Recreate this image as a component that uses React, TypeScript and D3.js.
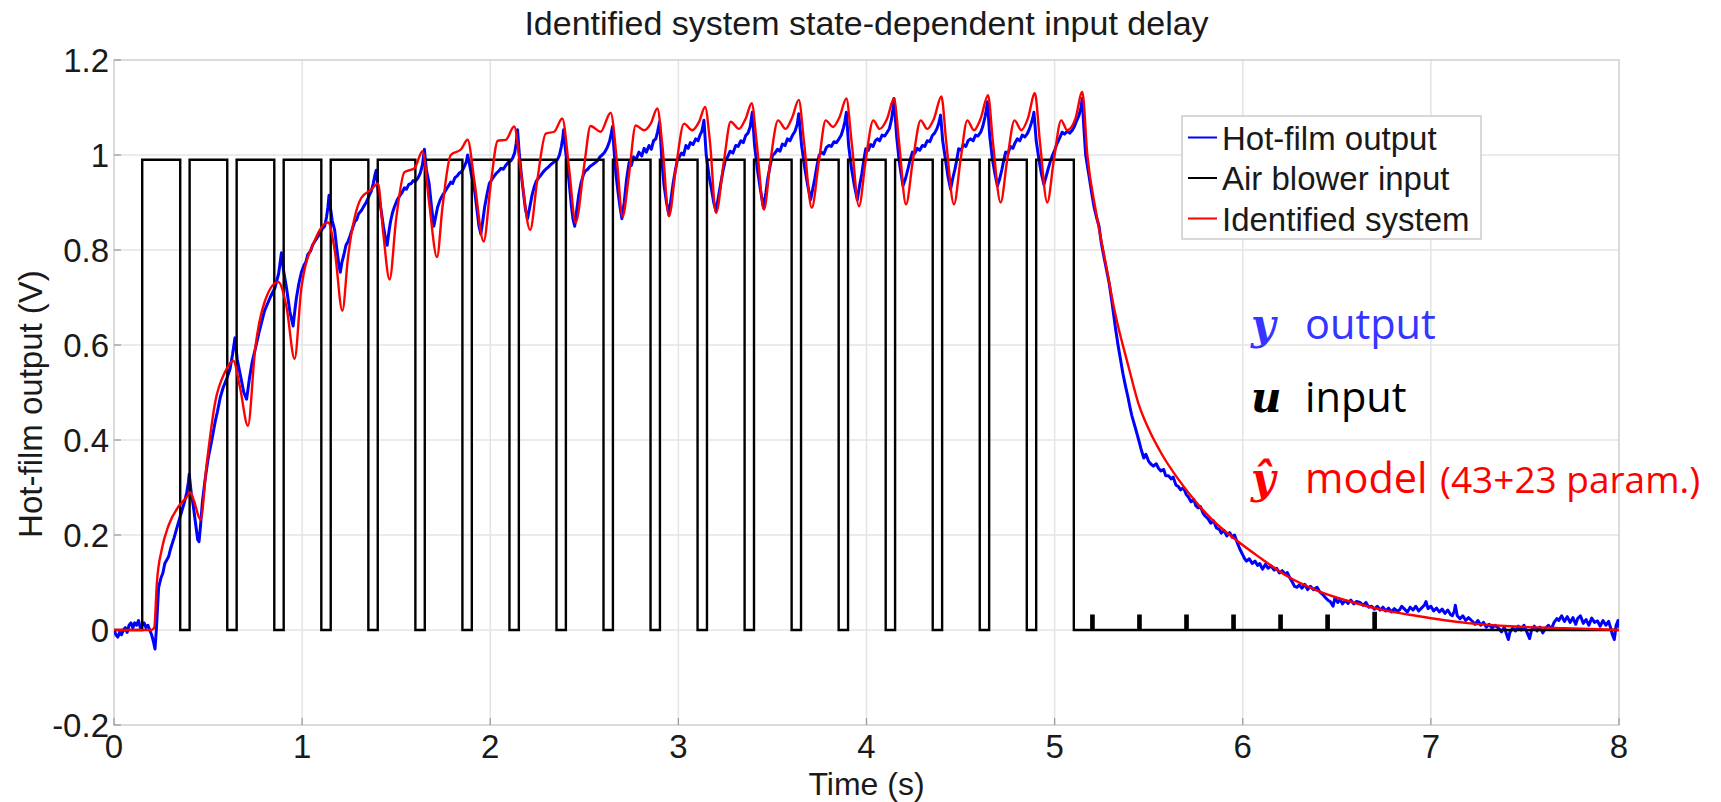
import React, { useEffect, useRef } from "react";
import * as d3 from "d3";

const TITLE = "Identified system state-dependent input delay";
const X_LABEL = "Time (s)";
const Y_LABEL = "Hot-film output (V)";
const X_TICKS = [0, 1, 2, 3, 4, 5, 6, 7, 8];
const Y_TICKS = [-0.2, 0, 0.2, 0.4, 0.6, 0.8, 1, 1.2];
const Y_TICK_LABELS = ["-0.2", "0", "0.2", "0.4", "0.6", "0.8", "1", "1.2"];
const LEGEND_LABELS = ["Hot-film output", "Air blower input", "Identified system"];
const SERIES_COLORS = ["#0000ff", "#000000", "#ff0000"];

// Air blower input: switching instants (s) and the level held after each one
const inputTimes = [
  0, 0.15, 0.352, 0.402, 0.602, 0.652, 0.852, 0.902, 1.102, 1.152, 1.352, 1.402,
  1.602, 1.652, 1.852, 1.902, 2.102, 2.152, 2.352, 2.402, 2.602, 2.652, 2.852, 2.902,
  3.102, 3.152, 3.352, 3.402, 3.602, 3.652, 3.852, 3.902, 4.102, 4.152, 4.352, 4.402,
  4.602, 4.652, 4.852, 4.902, 5.102,
  5.195, 5.207, 5.445, 5.457, 5.695, 5.707, 5.945, 5.957, 6.195, 6.207, 6.445, 6.457,
  6.695, 6.707, 8.0,
];
const inputLevels = [
  0, 0.99, 0, 0.99, 0, 0.99, 0, 0.99, 0, 0.99, 0, 0.99,
  0, 0.99, 0, 0.99, 0, 0.99, 0, 0.99, 0, 0.99, 0, 0.99,
  0, 0.99, 0, 0.99, 0, 0.99, 0, 0.99, 0, 0.99, 0, 0.99,
  0, 0.99, 0, 0.99, 0,
  0.03, 0, 0.03, 0, 0.03, 0, 0.03, 0, 0.03, 0, 0.03, 0,
  0.036, 0, 0,
];

// Identified system (model) output
const modelPts: [number, number][] = [
  [0, 0], [0.1, 0], [0.2, 0], [0.214, 0.005], [0.228, 0.1], [0.254, 0.17], [0.29, 0.22],
  [0.343, 0.26], [0.387, 0.28], [0.405, 0.29], [0.425, 0.272], [0.46, 0.232], [0.493, 0.35],
  [0.537, 0.478], [0.59, 0.543], [0.634, 0.567], [0.67, 0.51], [0.712, 0.43], [0.75, 0.59],
  [0.8, 0.69], [0.873, 0.733], [0.917, 0.68], [0.96, 0.571], [0.996, 0.72], [1.067, 0.82],
  [1.138, 0.858], [1.173, 0.8], [1.214, 0.672], [1.244, 0.785], [1.315, 0.91], [1.367, 0.927],
  [1.403, 0.94], [1.43, 0.84], [1.465, 0.738], [1.5, 0.866], [1.544, 0.964], [1.597, 0.972],
  [1.64, 1.008], [1.675, 0.9], [1.717, 0.785], [1.746, 0.89], [1.79, 1.0], [1.845, 1.012],
  [1.88, 1.032], [1.915, 0.947], [1.965, 0.818], [2.003, 0.94], [2.04, 1.03], [2.083, 1.032],
  [2.127, 1.06], [2.163, 0.964], [2.212, 0.842], [2.25, 0.947], [2.295, 1.045], [2.34, 1.049],
  [2.383, 1.077], [2.419, 0.972], [2.454, 0.858], [2.5, 0.98], [2.533, 1.061], [2.587, 1.049],
  [2.64, 1.089], [2.675, 0.98], [2.703, 0.87], [2.738, 0.96], [2.773, 1.062], [2.818, 1.052],
  [2.853, 1.066], [2.888, 1.098], [2.915, 1.02], [2.95, 0.871], [2.986, 0.97], [3.03, 1.066],
  [3.074, 1.052], [3.11, 1.07], [3.142, 1.101], [3.168, 1.027], [3.2, 0.878], [3.243, 0.99],
  [3.278, 1.07], [3.322, 1.055], [3.358, 1.077], [3.39, 1.109], [3.416, 1.027], [3.455, 0.885],
  [3.49, 0.99], [3.53, 1.073], [3.57, 1.055], [3.606, 1.08], [3.64, 1.116], [3.668, 1.027],
  [3.709, 0.889], [3.748, 0.99], [3.783, 1.073], [3.822, 1.059], [3.857, 1.08], [3.893, 1.119],
  [3.921, 1.027], [3.96, 0.892], [3.996, 0.99], [4.036, 1.073], [4.07, 1.055], [4.11, 1.077],
  [4.146, 1.119], [4.173, 1.027], [4.21, 0.896], [4.247, 0.99], [4.288, 1.073], [4.323, 1.055],
  [4.359, 1.077], [4.398, 1.123], [4.424, 1.027], [4.465, 0.896], [4.5, 0.99], [4.536, 1.073],
  [4.571, 1.052], [4.607, 1.077], [4.646, 1.126], [4.672, 1.027], [4.713, 0.9], [4.748, 0.99],
  [4.787, 1.073], [4.823, 1.052], [4.858, 1.077], [4.895, 1.13], [4.922, 1.027], [4.961, 0.9],
  [4.996, 0.99], [5.035, 1.073], [5.067, 1.052], [5.111, 1.077], [5.147, 1.133], [5.174, 1.0],
  [5.22, 0.88], [5.27, 0.775], [5.32, 0.67], [5.395, 0.551], [5.447, 0.475], [5.5, 0.423],
  [5.57, 0.37], [5.658, 0.317], [5.746, 0.272], [5.833, 0.234], [5.956, 0.192], [6.096, 0.151],
  [6.237, 0.113], [6.395, 0.083], [6.57, 0.06], [6.746, 0.042], [6.92, 0.03], [7.184, 0.015],
  [7.447, 0.0075], [7.71, 0.004], [8.0, 0.0],
];

// Hot-film measured output
const measuredPts: [number, number][] = [
  [0, 0.0], [0.01, -0.01], [0.02, -0.015], [0.03, -0.005], [0.04, -0.01], [0.05, 0.0],
  [0.06, 0.005], [0.07, -0.005], [0.08, 0.01], [0.09, 0.015], [0.1, 0.005], [0.11, 0.015],
  [0.12, 0.01], [0.13, 0.02], [0.14, 0.005], [0.15, 0.01], [0.16, 0.015], [0.17, 0.005],
  [0.18, 0.01], [0.19, 0.0], [0.2, -0.01], [0.21, -0.025], [0.218, -0.04], [0.225, 0.0],
  [0.237, 0.089], [0.25, 0.11], [0.26, 0.12], [0.27, 0.14], [0.29, 0.154], [0.3, 0.17],
  [0.32, 0.195], [0.343, 0.227], [0.36, 0.25], [0.375, 0.27], [0.387, 0.29], [0.395, 0.31],
  [0.4, 0.328], [0.41, 0.29], [0.422, 0.26], [0.435, 0.22], [0.445, 0.19], [0.452, 0.186],
  [0.46, 0.22], [0.47, 0.27], [0.484, 0.316], [0.5, 0.36], [0.52, 0.4], [0.537, 0.437],
  [0.55, 0.46], [0.565, 0.49], [0.58, 0.51], [0.6, 0.53], [0.617, 0.55], [0.63, 0.58],
  [0.643, 0.615], [0.655, 0.57], [0.67, 0.54], [0.69, 0.5], [0.705, 0.486], [0.72, 0.53],
  [0.735, 0.565], [0.75, 0.59], [0.77, 0.625], [0.8, 0.672], [0.83, 0.7], [0.855, 0.72],
  [0.875, 0.75], [0.89, 0.794], [0.9, 0.76], [0.917, 0.72], [0.935, 0.67], [0.952, 0.64],
  [0.962, 0.675], [0.97, 0.7], [0.983, 0.73], [0.996, 0.753], [1.01, 0.768], [1.02, 0.775],
  [1.03, 0.79], [1.045, 0.798], [1.055, 0.81], [1.067, 0.818], [1.08, 0.826], [1.09, 0.832],
  [1.1, 0.84], [1.11, 0.846], [1.12, 0.85], [1.13, 0.87], [1.137, 0.89], [1.143, 0.915],
  [1.15, 0.89], [1.16, 0.862], [1.173, 0.842], [1.185, 0.8], [1.195, 0.77], [1.203, 0.753],
  [1.212, 0.775], [1.222, 0.79], [1.233, 0.81], [1.244, 0.818], [1.255, 0.83], [1.265, 0.842],
  [1.28, 0.86], [1.29, 0.864], [1.3, 0.876], [1.315, 0.883], [1.325, 0.89], [1.34, 0.9],
  [1.35, 0.908], [1.36, 0.918], [1.367, 0.923], [1.378, 0.94], [1.387, 0.958], [1.394, 0.968],
  [1.405, 0.92], [1.42, 0.883], [1.432, 0.85], [1.444, 0.822], [1.452, 0.81], [1.462, 0.84],
  [1.47, 0.86], [1.48, 0.878], [1.49, 0.89], [1.505, 0.905], [1.52, 0.915], [1.53, 0.92],
  [1.544, 0.931], [1.555, 0.928], [1.567, 0.938], [1.58, 0.94], [1.59, 0.946], [1.6, 0.944],
  [1.615, 0.951], [1.628, 0.962], [1.64, 0.98], [1.65, 1.012], [1.66, 0.97], [1.675, 0.94],
  [1.688, 0.89], [1.7, 0.85], [1.71, 0.87], [1.72, 0.89], [1.733, 0.905], [1.746, 0.915],
  [1.758, 0.922], [1.77, 0.93], [1.78, 0.936], [1.79, 0.943], [1.8, 0.94], [1.812, 0.952],
  [1.825, 0.956], [1.835, 0.962], [1.845, 0.964], [1.855, 0.97], [1.865, 0.978], [1.872, 0.985],
  [1.88, 1.0], [1.89, 0.98], [1.9, 0.958], [1.915, 0.931], [1.928, 0.89], [1.94, 0.85],
  [1.95, 0.834], [1.96, 0.86], [1.97, 0.89], [1.983, 0.918], [1.995, 0.94], [2.008, 0.948],
  [2.02, 0.955], [2.033, 0.962], [2.045, 0.966], [2.057, 0.972], [2.07, 0.97], [2.082, 0.978],
  [2.095, 0.984], [2.11, 0.988], [2.12, 0.994], [2.13, 1.005], [2.138, 1.025], [2.145, 1.053],
  [2.155, 1.0], [2.165, 0.96], [2.175, 0.925], [2.187, 0.886], [2.198, 0.866], [2.21, 0.89],
  [2.222, 0.915], [2.233, 0.932], [2.245, 0.945], [2.257, 0.952], [2.27, 0.958], [2.283, 0.965],
  [2.295, 0.97], [2.31, 0.975], [2.322, 0.98], [2.335, 0.984], [2.345, 0.988], [2.357, 0.99],
  [2.368, 1.0], [2.378, 1.018], [2.385, 1.035], [2.39, 1.053], [2.4, 1.01], [2.41, 0.975],
  [2.42, 0.94], [2.432, 0.89], [2.44, 0.865], [2.449, 0.85], [2.46, 0.885], [2.47, 0.915],
  [2.482, 0.94], [2.495, 0.958], [2.505, 0.966], [2.518, 0.97], [2.53, 0.976], [2.545, 0.98],
  [2.558, 0.984], [2.57, 0.988], [2.583, 0.996], [2.595, 1.0], [2.608, 1.006], [2.622, 1.016],
  [2.635, 1.03], [2.643, 1.045], [2.65, 1.06], [2.658, 1.01], [2.668, 0.96], [2.68, 0.92],
  [2.69, 0.89], [2.7, 0.866], [2.712, 0.9], [2.725, 0.95], [2.738, 0.984], [2.75, 0.978],
  [2.762, 0.996], [2.775, 0.99], [2.79, 1.006], [2.805, 0.998], [2.818, 1.014], [2.83, 1.006],
  [2.844, 1.02], [2.856, 1.012], [2.868, 1.03], [2.88, 1.034], [2.89, 1.05], [2.9, 1.07],
  [2.912, 0.99], [2.924, 0.935], [2.937, 0.9], [2.95, 0.874], [2.96, 0.905], [2.972, 0.94],
  [2.984, 0.968], [2.995, 0.99], [3.005, 0.996], [3.017, 1.004], [3.028, 1.0], [3.04, 1.02],
  [3.052, 1.014], [3.064, 1.026], [3.078, 1.022], [3.092, 1.034], [3.105, 1.03], [3.115, 1.042],
  [3.125, 1.05], [3.136, 1.073], [3.148, 1.0], [3.163, 0.956], [3.175, 0.93], [3.188, 0.9],
  [3.2, 0.882], [3.212, 0.91], [3.225, 0.94], [3.237, 0.966], [3.25, 0.99], [3.262, 0.996],
  [3.275, 1.008], [3.29, 1.004], [3.305, 1.02], [3.318, 1.018], [3.332, 1.03], [3.345, 1.026],
  [3.358, 1.041], [3.37, 1.046], [3.382, 1.06], [3.393, 1.09], [3.405, 1.02], [3.42, 0.97],
  [3.435, 0.93], [3.452, 0.889], [3.465, 0.92], [3.475, 0.95], [3.488, 0.978], [3.5, 0.999],
  [3.513, 1.004], [3.527, 1.012], [3.54, 1.008], [3.553, 1.023], [3.567, 1.02], [3.58, 1.034],
  [3.593, 1.03], [3.606, 1.041], [3.62, 1.05], [3.632, 1.065], [3.64, 1.087], [3.655, 1.02],
  [3.673, 0.97], [3.688, 0.935], [3.703, 0.906], [3.715, 0.93], [3.725, 0.95], [3.737, 0.978],
  [3.748, 0.999], [3.76, 1.006], [3.773, 1.002], [3.787, 1.016], [3.8, 1.02], [3.813, 1.018],
  [3.827, 1.028], [3.84, 1.026], [3.854, 1.034], [3.866, 1.042], [3.878, 1.058], [3.885, 1.07],
  [3.893, 1.09], [3.905, 1.02], [3.921, 0.97], [3.936, 0.935], [3.951, 0.906], [3.963, 0.935],
  [3.975, 0.96], [3.986, 0.99], [3.996, 1.013], [4.01, 1.01], [4.022, 1.022], [4.035, 1.018],
  [4.047, 1.03], [4.058, 1.034], [4.07, 1.03], [4.083, 1.042], [4.097, 1.04], [4.11, 1.048],
  [4.122, 1.056], [4.133, 1.075], [4.14, 1.095], [4.146, 1.119], [4.16, 1.04], [4.173, 0.99],
  [4.184, 0.96], [4.194, 0.935], [4.207, 0.95], [4.22, 0.97], [4.232, 0.99], [4.244, 1.006],
  [4.257, 1.004], [4.27, 1.014], [4.283, 1.01], [4.297, 1.02], [4.31, 1.018], [4.323, 1.03],
  [4.337, 1.028], [4.35, 1.041], [4.362, 1.046], [4.375, 1.056], [4.385, 1.068], [4.394, 1.084],
  [4.405, 1.03], [4.42, 0.99], [4.433, 0.955], [4.447, 0.928], [4.458, 0.95], [4.47, 0.97],
  [4.48, 0.99], [4.49, 1.013], [4.503, 1.01], [4.515, 1.022], [4.528, 1.018], [4.54, 1.03],
  [4.553, 1.034], [4.567, 1.03], [4.58, 1.042], [4.593, 1.04], [4.607, 1.048], [4.618, 1.06],
  [4.63, 1.08], [4.637, 1.095], [4.643, 1.112], [4.655, 1.04], [4.67, 0.99], [4.683, 0.96],
  [4.696, 0.935], [4.708, 0.95], [4.72, 0.97], [4.73, 0.99], [4.74, 1.006], [4.753, 1.004],
  [4.765, 1.018], [4.778, 1.014], [4.79, 1.026], [4.802, 1.034], [4.815, 1.03], [4.828, 1.042],
  [4.842, 1.038], [4.855, 1.045], [4.866, 1.055], [4.877, 1.068], [4.884, 1.078], [4.89, 1.09],
  [4.902, 1.03], [4.917, 0.99], [4.93, 0.96], [4.943, 0.938], [4.955, 0.955], [4.965, 0.97],
  [4.977, 0.986], [4.988, 0.999], [5.0, 1.01], [5.013, 1.024], [5.027, 1.036], [5.04, 1.048],
  [5.053, 1.044], [5.067, 1.05], [5.08, 1.046], [5.094, 1.052], [5.105, 1.06], [5.117, 1.072],
  [5.13, 1.084], [5.14, 1.1], [5.147, 1.119], [5.155, 1.06], [5.165, 1.0], [5.175, 0.975],
  [5.183, 0.956], [5.195, 0.925], [5.21, 0.89], [5.222, 0.87], [5.236, 0.85], [5.248, 0.815],
  [5.26, 0.79], [5.275, 0.76], [5.29, 0.73], [5.305, 0.69], [5.324, 0.634], [5.337, 0.6],
  [5.35, 0.57], [5.363, 0.54], [5.377, 0.513], [5.39, 0.49], [5.4, 0.47], [5.41, 0.452],
  [5.42, 0.438], [5.433, 0.42], [5.447, 0.4], [5.46, 0.38], [5.474, 0.362], [5.485, 0.37],
  [5.5, 0.355], [5.51, 0.35], [5.525, 0.345], [5.54, 0.35], [5.553, 0.34], [5.565, 0.335],
  [5.58, 0.338], [5.59, 0.325], [5.605, 0.325], [5.62, 0.318], [5.63, 0.322], [5.645, 0.305],
  [5.658, 0.302], [5.67, 0.295], [5.685, 0.3], [5.7, 0.285], [5.711, 0.28], [5.725, 0.27],
  [5.74, 0.275], [5.75, 0.262], [5.763, 0.257], [5.775, 0.26], [5.79, 0.245], [5.8, 0.24],
  [5.816, 0.234], [5.83, 0.225], [5.845, 0.23], [5.86, 0.215], [5.875, 0.212], [5.886, 0.204],
  [5.9, 0.21], [5.915, 0.198], [5.93, 0.205], [5.945, 0.195], [5.956, 0.2], [5.97, 0.185],
  [5.985, 0.17], [6.0, 0.158], [6.009, 0.151], [6.02, 0.145], [6.035, 0.15], [6.05, 0.14],
  [6.065, 0.145], [6.079, 0.136], [6.09, 0.14], [6.105, 0.128], [6.12, 0.138], [6.135, 0.13],
  [6.15, 0.135], [6.167, 0.126], [6.18, 0.13], [6.195, 0.12], [6.21, 0.125], [6.225, 0.118],
  [6.237, 0.121], [6.25, 0.11], [6.265, 0.1], [6.275, 0.092], [6.289, 0.09], [6.3, 0.095],
  [6.315, 0.088], [6.33, 0.096], [6.345, 0.085], [6.36, 0.092], [6.375, 0.085], [6.395, 0.09],
  [6.41, 0.08], [6.425, 0.075], [6.44, 0.068], [6.455, 0.062], [6.465, 0.06], [6.48, 0.05],
  [6.49, 0.068], [6.505, 0.058], [6.518, 0.064], [6.53, 0.055], [6.545, 0.062], [6.56, 0.056],
  [6.575, 0.063], [6.59, 0.055], [6.605, 0.06], [6.623, 0.058], [6.64, 0.052], [6.655, 0.058],
  [6.67, 0.048], [6.685, 0.05], [6.7, 0.044], [6.715, 0.05], [6.73, 0.042], [6.745, 0.048],
  [6.76, 0.04], [6.775, 0.046], [6.79, 0.038], [6.805, 0.045], [6.82, 0.04], [6.833, 0.042],
  [6.845, 0.05], [6.86, 0.044], [6.875, 0.038], [6.89, 0.048], [6.905, 0.042], [6.92, 0.05],
  [6.935, 0.04], [6.95, 0.046], [6.965, 0.052], [6.974, 0.06], [6.985, 0.045], [7.0, 0.05],
  [7.015, 0.04], [7.03, 0.046], [7.045, 0.038], [7.06, 0.044], [7.075, 0.035], [7.09, 0.042],
  [7.105, 0.032], [7.114, 0.03], [7.125, 0.04], [7.13, 0.052], [7.14, 0.03], [7.155, 0.024],
  [7.17, 0.03], [7.185, 0.02], [7.2, 0.026], [7.219, 0.019], [7.235, 0.012], [7.25, 0.02],
  [7.265, 0.01], [7.28, 0.016], [7.295, 0.006], [7.31, 0.012], [7.325, 0.004], [7.34, 0.01],
  [7.36, 0.004], [7.375, -0.004], [7.39, 0.006], [7.405, -0.012], [7.412, -0.02], [7.42, -0.005],
  [7.435, 0.004], [7.45, -0.002], [7.465, 0.008], [7.48, 0.0], [7.495, 0.01], [7.51, -0.004],
  [7.525, -0.018], [7.535, 0.0], [7.55, 0.008], [7.565, -0.002], [7.58, 0.006], [7.595, -0.006],
  [7.61, 0.004], [7.625, 0.01], [7.64, 0.002], [7.655, 0.016], [7.67, 0.024], [7.68, 0.02],
  [7.695, 0.03], [7.71, 0.018], [7.725, 0.028], [7.74, 0.016], [7.755, 0.026], [7.77, 0.012],
  [7.78, 0.024], [7.795, 0.03], [7.81, 0.014], [7.825, 0.022], [7.84, 0.01], [7.855, 0.025],
  [7.87, 0.016], [7.886, 0.019], [7.9, 0.008], [7.915, 0.02], [7.93, 0.01], [7.945, 0.018],
  [7.955, 0.005], [7.965, -0.01], [7.975, -0.02], [7.985, 0.01], [7.995, 0.02], [8.0, 0.005],
];

const W = 1721;
const H = 802;
const FONT = "'Liberation Sans', Arial, Helvetica, sans-serif";
const NOTE_FONT = "'Open Sans', 'Noto Sans', sans-serif";
const MATH_FONT = "'DejaVu Serif', serif";

export default function App() {
  const ref = useRef<SVGSVGElement | null>(null);

  useEffect(() => {
    const svg = d3.select(ref.current);
    svg.selectAll("*").remove();

    const x = d3.scaleLinear().domain([0, 8]).range([114, 1619]);
    const y = d3.scaleLinear().domain([-0.2, 1.2]).range([725, 60]);
    const [x0, x1] = x.range();
    const [yb, yt] = y.range();

    svg.append("rect").attr("width", W).attr("height", H).attr("fill", "#ffffff");

    // grid
    const grid = svg.append("g");
    X_TICKS.slice(1, -1).forEach((t) => {
      grid.append("line").attr("x1", x(t)).attr("x2", x(t)).attr("y1", yt).attr("y2", yb)
        .attr("stroke", "#e4e4e4").attr("stroke-width", 1.5);
    });
    Y_TICKS.slice(1, -1).forEach((v) => {
      grid.append("line").attr("x1", x0).attr("x2", x1).attr("y1", y(v)).attr("y2", y(v))
        .attr("stroke", "#e4e4e4").attr("stroke-width", 1.5);
    });

    // box
    svg.append("rect").attr("x", x0).attr("y", yt).attr("width", x1 - x0).attr("height", yb - yt)
      .attr("fill", "none").attr("stroke", "#cfcfcf").attr("stroke-width", 1.5);

    // ticks
    const ticks = svg.append("g").attr("stroke", "#9a9a9a").attr("stroke-width", 1.2);
    X_TICKS.forEach((t) => {
      ticks.append("line").attr("x1", x(t)).attr("x2", x(t)).attr("y1", yb).attr("y2", yb - 7);
    });
    Y_TICKS.forEach((v) => {
      ticks.append("line").attr("x1", x0).attr("x2", x0 + 7).attr("y1", y(v)).attr("y2", y(v));
    });

    // tick labels
    const tl = svg.append("g").attr("font-family", FONT).attr("font-size", 33).attr("fill", "#1a1a1a");
    X_TICKS.forEach((t) => {
      tl.append("text").attr("x", x(t)).attr("y", 758).attr("text-anchor", "middle").text(String(t));
    });
    Y_TICKS.forEach((v, i) => {
      tl.append("text").attr("x", 109).attr("y", y(v) + 12).attr("text-anchor", "end").text(Y_TICK_LABELS[i]);
    });

    // axis labels and title
    svg.append("text").attr("x", (x0 + x1) / 2).attr("y", 795).attr("text-anchor", "middle")
      .attr("font-family", FONT).attr("font-size", 32).attr("fill", "#1a1a1a").text(X_LABEL);
    svg.append("text").attr("transform", `translate(42,404) rotate(-90)`)
      .attr("text-anchor", "middle").attr("font-family", FONT).attr("font-size", 33)
      .attr("fill", "#1a1a1a").text(Y_LABEL);
    svg.append("text").attr("x", (x0 + x1) / 2).attr("y", 35).attr("text-anchor", "middle")
      .attr("font-family", FONT).attr("font-size", 34).attr("fill", "#1a1a1a").text(TITLE);

    // data
    const clipId = "plotclip";
    svg.append("clipPath").attr("id", clipId).append("rect")
      .attr("x", x0).attr("y", yt).attr("width", x1 - x0).attr("height", yb - yt);
    const plot = svg.append("g").attr("clip-path", `url(#${clipId})`);

    const mk = (curve: d3.CurveFactory) =>
      d3.line<[number, number]>().x((d) => x(d[0])).y((d) => y(d[1])).curve(curve);
    const inputPts: [number, number][] = inputTimes.map((t, i) => [t, inputLevels[i]]);

    plot.append("path").attr("d", mk(d3.curveLinear)(measuredPts) || "")
      .attr("fill", "none").attr("stroke", SERIES_COLORS[0]).attr("stroke-width", 3)
      .attr("stroke-linejoin", "round");
    plot.append("path").attr("d", mk(d3.curveStepAfter)(inputPts) || "")
      .attr("fill", "none").attr("stroke", SERIES_COLORS[1]).attr("stroke-width", 2.4);
    plot.append("path").attr("d", mk(d3.curveMonotoneX)(modelPts) || "")
      .attr("fill", "none").attr("stroke", SERIES_COLORS[2]).attr("stroke-width", 2.4)
      .attr("stroke-linejoin", "round");

    // legend
    const lg = svg.append("g");
    lg.append("rect").attr("x", 1182).attr("y", 116).attr("width", 299).attr("height", 123)
      .attr("fill", "#ffffff").attr("stroke", "#cccccc").attr("stroke-width", 1.5);
    LEGEND_LABELS.forEach((lab, i) => {
      const cy = 137.5 + i * 40.5;
      lg.append("line").attr("x1", 1188).attr("x2", 1217).attr("y1", cy).attr("y2", cy)
        .attr("stroke", SERIES_COLORS[i]).attr("stroke-width", 2);
      lg.append("text").attr("x", 1222).attr("y", cy + 12).attr("font-family", FONT)
        .attr("font-size", 33).attr("fill", "#1a1a1a").text(lab);
    });

    // annotations
    const ann = svg.append("g");
    const rows = [
      { sym: "y", word: "output", color: "#3535ff", base: 339 },
      { sym: "u", word: "input", color: "#000000", base: 412 },
      { sym: "\u0177", word: "model", color: "#ff0000", base: 493 },
    ];
    rows.forEach((r) => {
      ann.append("text").attr("x", 1251).attr("y", r.base).attr("fill", r.color)
        .attr("font-family", MATH_FONT).attr("font-style", "italic")
        .attr("font-weight", "bold").attr("font-size", 42).text(r.sym);
      ann.append("text").attr("x", 1305).attr("y", r.base).attr("font-family", NOTE_FONT)
        .attr("font-size", 41.5).attr("fill", r.color).text(r.word);
    });
    ann.append("text").attr("x", 1440).attr("y", 493).attr("font-family", NOTE_FONT)
      .attr("font-size", 37).attr("fill", "#ff0000").text("(43+23 param.)");
  }, []);

  return (
    <div style={{ position: "absolute", left: 0, top: 0 }}>
      <svg ref={ref} width={W} height={H} style={{ display: "block" }} />
    </div>
  );
}
